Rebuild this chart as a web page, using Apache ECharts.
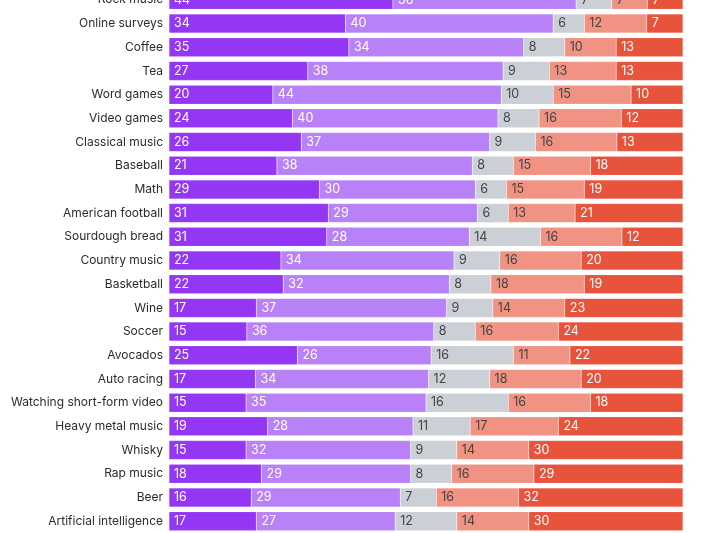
<!DOCTYPE html>
<html>
<head>
<meta charset="utf-8">
<script src="https://cdn.jsdelivr.net/npm/echarts@6/dist/echarts.min.js"></script>
<style>
  html, body { margin: 0; padding: 0; background: #fff; overflow: hidden; }
  /* the top row is cut off in the original, so the chart is shifted up a bit */
  #chart { width: 701px; height: 545px; margin-top: -12px; }
</style>
</head>
<body>
<div id="chart"></div>
<script>
// categories top to bottom
const topics = ['Rock music', 'Online surveys', 'Coffee', 'Tea', 'Word games', 'Video games',
  'Classical music', 'Baseball', 'Math', 'American football', 'Sourdough bread',
  'Country music', 'Basketball', 'Wine', 'Soccer', 'Avocados', 'Auto racing',
  'Watching short-form video', 'Heavy metal music', 'Whisky', 'Rap music', 'Beer',
  'Artificial intelligence']

// answer shares per topic (percent)
const love =    [44, 34, 35, 27, 20, 24, 26, 21, 29, 31, 31, 22, 22, 17, 15, 25, 17, 15, 19, 15, 18, 16, 17]
const like =    [36, 40, 34, 38, 44, 40, 37, 38, 30, 29, 28, 34, 32, 37, 36, 26, 34, 35, 28, 32, 29, 29, 27]
const neutral = [7, 6, 8, 9, 10, 8, 9, 8, 6, 6, 14, 9, 8, 9, 8, 16, 12, 16, 11, 9, 8, 7, 12]
const dislike = [7, 12, 10, 13, 15, 16, 16, 15, 15, 13, 16, 16, 18, 14, 16, 11, 18, 16, 17, 14, 16, 16, 14]
const hate =    [7, 7, 13, 13, 10, 12, 13, 18, 19, 21, 12, 20, 19, 23, 24, 22, 20, 18, 24, 30, 29, 32, 30]

const groups = [
  { name: 'Love', values: love, color: '#9437f4', text: '#fff' },
  { name: 'Like', values: like, color: '#b981f7', text: '#fff' },
  { name: 'Neutral', values: neutral, color: '#cbcfd6', text: '#444' },
  { name: 'Dislike', values: dislike, color: '#f09383', text: '#444' },
  { name: 'Hate', values: hate, color: '#e8533c', text: '#fff' }
]

// rounded shares don't always add to 100, so every row is scaled to full width
const totals = topics.map((t, i) => groups.reduce((s, g) => s + g.values[i], 0))

const chart = echarts.init(document.getElementById('chart'))
chart.setOption({
  animation: false,
  grid: { left: 169, right: 18, top: 0, bottom: 0 },
  xAxis: { type: 'value', min: 0, max: 100, show: false },
  yAxis: {
    type: 'category',
    inverse: true,
    data: topics,
    axisLine: { show: false },
    axisTick: { show: false },
    axisLabel: { color: '#2b2b2b', fontSize: 12, fontFamily: 'Inter', margin: 6 }
  },
  series: groups.map(g => ({
    name: g.name,
    type: 'bar',
    stack: 'all',
    barWidth: 19,
    itemStyle: { color: g.color, borderColor: 'rgba(255,255,255,0.25)', borderWidth: 0.5 },
    label: {
      show: true,
      position: 'insideLeft',
      distance: 5,
      color: g.text,
      fontSize: 12.5,
      fontFamily: 'Inter',
      formatter: p => g.values[p.dataIndex]
    },
    data: g.values.map((v, i) => v / totals[i] * 100)
  }))
})
</script>
</body>
</html>
